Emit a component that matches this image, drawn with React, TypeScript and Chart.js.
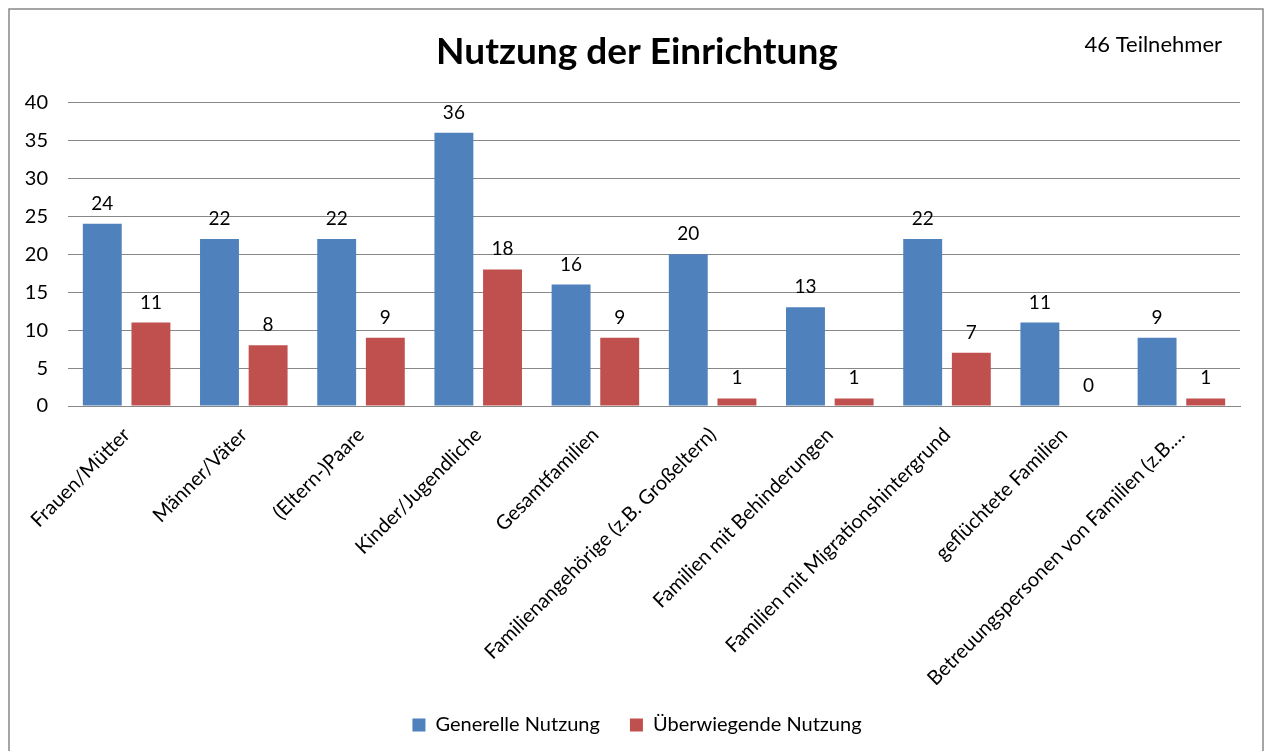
import React, { useEffect, useRef } from "react";
import { Chart, registerables } from "chart.js";

Chart.register(...registerables);

const categories = [
  "Frauen/Mütter",
  "Männer/Väter",
  "(Eltern-)Paare",
  "Kinder/Jugendliche",
  "Gesamtfamilien",
  "Familienangehörige (z.B. Großeltern)",
  "Familien mit Behinderungen",
  "Familien mit Migrationshintergrund",
  "geflüchtete Familien",
  "Betreuungspersonen von Familien (z.B.…",
];
const generelleNutzung = [24, 22, 22, 36, 16, 20, 13, 22, 11, 9];
const ueberwiegendeNutzung = [11, 8, 9, 18, 9, 1, 1, 7, 0, 1];
const yTicks = [0, 5, 10, 15, 20, 25, 30, 35, 40];

const titleText = "Nutzung der Einrichtung";
const noteText = "46 Teilnehmer";
const FONT = "Lato, 'Open Sans', sans-serif";
const TICK_SIZE = 20;

const framePlugin = {
  id: "frame",
  beforeDraw(chart: any) {
    const ctx = chart.ctx;
    ctx.save();
    ctx.fillStyle = "#ffffff";
    ctx.fillRect(0, 0, chart.width, chart.height);
    ctx.strokeStyle = "#888888";
    ctx.lineWidth = 1.5;
    ctx.strokeRect(9, 9, 1254, 800);
    ctx.restore();
  },
  afterDraw(chart: any) {
    const ctx = chart.ctx;
    ctx.save();
    ctx.font = `22px ${FONT}`;
    ctx.fillStyle = "#000000";
    ctx.textAlign = "right";
    ctx.textBaseline = "middle";
    ctx.fillText(noteText, 1222, 45);
    ctx.restore();
  },
};

const valueLabelPlugin = {
  id: "valueLabels",
  afterDatasetsDraw(chart: any) {
    const ctx = chart.ctx;
    ctx.save();
    ctx.font = `19px ${FONT}`;
    ctx.fillStyle = "#000000";
    ctx.textAlign = "center";
    ctx.textBaseline = "alphabetic";
    chart.data.datasets.forEach((ds: any, di: number) => {
      const meta = chart.getDatasetMeta(di);
      meta.data.forEach((bar: any, i: number) => {
        ctx.fillText(String(ds.data[i]), bar.x, bar.y - 14);
      });
    });
    ctx.restore();
  },
};

export default function App() {
  const ref = useRef<HTMLCanvasElement | null>(null);
  useEffect(() => {
    if (!ref.current) return;
    const mctx = ref.current.getContext("2d")!;
    mctx.font = `${TICK_SIZE}px ${FONT}`;
    const widest = Math.max(...yTicks.map((v) => mctx.measureText(String(v)).width));
    const chart = new Chart(ref.current, {
      type: "bar",
      data: {
        labels: categories,
        datasets: [
          {
            label: "Generelle Nutzung",
            data: generelleNutzung,
            backgroundColor: "#4F81BD",
            categoryPercentage: 0.83,
            barPercentage: 0.8,
          },
          {
            label: "Überwiegende Nutzung",
            data: ueberwiegendeNutzung,
            backgroundColor: "#C0504D",
            categoryPercentage: 0.83,
            barPercentage: 0.8,
          },
        ],
      },
      options: {
        responsive: false,
        animation: false,
        layout: { padding: { left: 34, right: 26, top: 0, bottom: 6 } },
        plugins: {
          title: {
            display: true,
            text: titleText,
            color: "#000000",
            font: { family: FONT, size: 37, weight: "bold" },
            padding: { top: 30, bottom: 28 },
          },
          legend: {
            position: "bottom",
            labels: {
              color: "#000000",
              font: { family: FONT, size: TICK_SIZE },
              boxWidth: 13,
              boxHeight: 13,
              padding: 30,
            },
          },
          tooltip: { enabled: false },
        },
        scales: {
          x: {
            grid: { display: false, drawTicks: false },
            border: { display: true, color: "#888888" },
            ticks: {
              color: "#000000",
              font: { family: FONT, size: TICK_SIZE },
              maxRotation: 45,
              minRotation: 45,
              autoSkip: false,
              padding: 17,
            },
            afterFit(scale: any) {
              scale.height = 279;
            },
          },
          y: {
            min: 0,
            max: 40,
            grid: { color: "#888888", drawTicks: false },
            border: { display: false },
            afterBuildTicks(scale: any) {
              scale.ticks = yTicks.map((v) => ({ value: v }));
            },
            ticks: {
              color: "#000000",
              font: { family: FONT, size: TICK_SIZE },
              mirror: true,
              crossAlign: "far",
              padding: -(20 + widest),
            },
            afterFit(scale: any) {
              scale.width = 34;
            },
          },
        },
      },
      plugins: [framePlugin, valueLabelPlugin],
    } as any);
    return () => chart.destroy();
  }, []);
  return (
    <div style={{ position: "absolute", left: 0, top: 0, width: 1266, height: 751 }}>
      <canvas ref={ref} width={1266} height={751} />
    </div>
  );
}
